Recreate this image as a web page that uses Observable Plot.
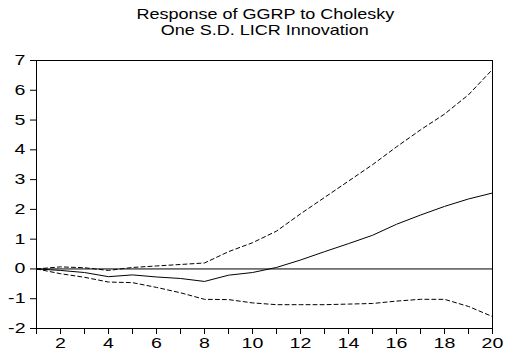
<!DOCTYPE html>
<html>
<head>
<meta charset="utf-8">
<script src="https://cdn.jsdelivr.net/npm/d3@7"></script>
<script src="https://cdn.jsdelivr.net/npm/@observablehq/plot@0.6"></script>
<style>
  body { margin: 0; background: #fff; }
  #wrap { width: 516px; height: 354px; }
  #title { height: 40px; text-align: center; font-family: "Liberation Sans", Arial, sans-serif; font-size: 15px; line-height: 16px; padding-top: 6px; box-sizing: border-box; padding-left: 14px; color: #000; }
  #title span { display: inline-block; transform: scaleX(1.2); transform-origin: center; }
  svg { display: block; }
</style>
</head>
<body>
<div id="wrap">
  <div id="title"><span>Response of GGRP to Cholesky</span><br><span>One S.D. LICR Innovation</span></div>
  <div id="chart"></div>
</div>
<script>
const periods = [1,2,3,4,5,6,7,8,9,10,11,12,13,14,15,16,17,18,19,20];
const response = [0,-0.05,-0.12,-0.26,-0.2,-0.27,-0.32,-0.42,-0.21,-0.12,0.05,0.3,0.58,0.85,1.13,1.5,1.81,2.1,2.35,2.55];
const upperBand = [0,0.07,0.04,-0.05,0.05,0.1,0.15,0.2,0.58,0.88,1.27,1.85,2.4,2.95,3.5,4.1,4.67,5.2,5.85,6.7];
const lowerBand = [0,-0.16,-0.28,-0.44,-0.46,-0.62,-0.8,-1.02,-1.03,-1.14,-1.2,-1.2,-1.2,-1.18,-1.16,-1.08,-1.02,-1.02,-1.26,-1.6];
const yTicks = [-2,-1,0,1,2,3,4,5,6,7];

const rows = periods.map((p, i) => ({p, r: response[i], u: upperBand[i], l: lowerBand[i]}));

const chart = Plot.plot({
  width: 516,
  height: 314,
  marginTop: 20,
  marginBottom: 26,
  marginLeft: 36,
  marginRight: 24,
  style: { fontFamily: "Liberation Sans, Arial, sans-serif", fontSize: "14px", color: "#000", background: "#fff" },
  x: { domain: [1, 20] },
  y: { domain: [-2, 7] },
  marks: [
    Plot.ruleY([0], { stroke: "#000", strokeWidth: 1 }),
    Plot.line(rows, { x: "p", y: "u", stroke: "#000", strokeWidth: 1, strokeDasharray: "4,3" }),
    Plot.line(rows, { x: "p", y: "l", stroke: "#000", strokeWidth: 1, strokeDasharray: "4,3" }),
    Plot.line(rows, { x: "p", y: "r", stroke: "#000", strokeWidth: 1 }),
    Plot.frame({ stroke: "#000", strokeWidth: 1 }),
    Plot.axisX({ ticks: periods, tickFormat: d => d % 2 === 0 ? String(d) : "", tickSize: 6, tickPadding: 4, label: null, fontSize: 14 }),
    Plot.axisY({ ticks: yTicks, tickFormat: d => String(d), tickSize: 6, tickPadding: 5, label: null, fontSize: 14 })
  ]
});
document.getElementById("chart").appendChild(chart);
chart.querySelectorAll('[aria-label="x-axis tick label"] text, [aria-label="y-axis tick label"] text').forEach(t => {
  const len = t.getComputedTextLength();
  if (len > 0) {
    t.setAttribute("textLength", (len * 1.4).toFixed(1));
    t.setAttribute("lengthAdjust", "spacingAndGlyphs");
  }
});
</script>
</body>
</html>
